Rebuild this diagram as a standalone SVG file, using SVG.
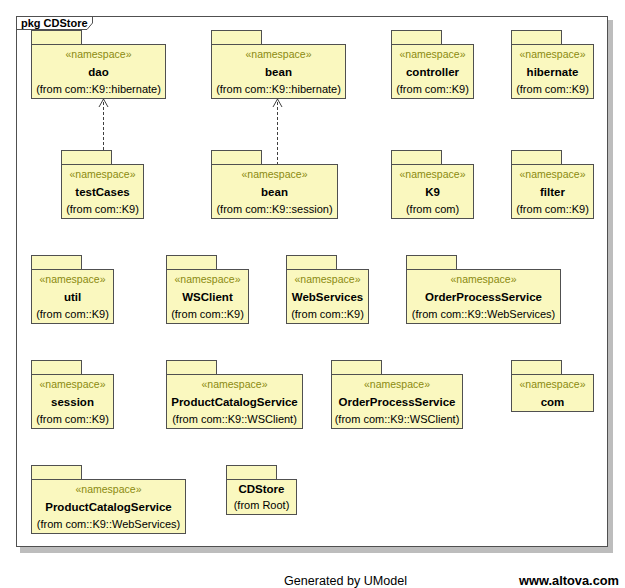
<svg xmlns="http://www.w3.org/2000/svg" width="625" height="588" viewBox="0 0 625 588">
<style>
.pk{fill:#FAF8BF;stroke:#505050;stroke-width:1}
.st{font-family:"Liberation Sans",Arial,sans-serif;font-size:10.5px;fill:#8A8A10;text-anchor:middle}
.nm{font-family:"Liberation Sans",Arial,sans-serif;font-size:11.5px;font-weight:bold;fill:#000;text-anchor:middle}
.fr{font-family:"Liberation Sans",Arial,sans-serif;font-size:11px;fill:#000;text-anchor:middle}
.dep{fill:none;stroke:#404040;stroke-width:1}
</style>
<defs>
<marker id="open" markerWidth="12" markerHeight="12" refX="10" refY="6" orient="auto" markerUnits="userSpaceOnUse" viewBox="0 0 12 12">
<path d="M2,1.5 L10,6 L2,10.5" fill="none" stroke="#404040" stroke-width="1"/>
</marker>
</defs>
<rect width="625" height="588" fill="#fff"/>
<g id="frame">
<rect x="20" y="20" width="593" height="533" fill="#BDBDBD"/>
<rect x="16.5" y="16.5" width="591" height="530" fill="#fff" stroke="#505050"/>
<path d="M16.5,29.5 H87 L92.5,23 V16.5" fill="none" stroke="#505050"/>
<text x="21" y="27" style="font-family:'Liberation Sans',Arial,sans-serif;font-size:11px;font-weight:bold">pkg CDStore</text>
</g>
<g id="connectors">
<line class="dep" x1="103.5" y1="165" x2="103.5" y2="99" stroke-dasharray="3,2" marker-end="url(#open)"/>
<line class="dep" x1="277.5" y1="165" x2="277.5" y2="99" stroke-dasharray="3,2" marker-end="url(#open)"/>
</g>
<g id="dao">
<rect class="pk" x="31.5" y="30.5" width="50" height="14"/>
<rect class="pk" x="31.5" y="44.5" width="134" height="54"/>
<text class="st" x="98.5" y="58">«namespace»</text>
<text class="nm" x="98.5" y="76">dao</text>
<text class="fr" x="98.5" y="93">(from com::K9::hibernate)</text>
</g>
<g id="bean_hibernate">
<rect class="pk" x="211.5" y="30.5" width="50" height="14"/>
<rect class="pk" x="211.5" y="44.5" width="134" height="54"/>
<text class="st" x="278.5" y="58">«namespace»</text>
<text class="nm" x="278.5" y="76">bean</text>
<text class="fr" x="278.5" y="93">(from com::K9::hibernate)</text>
</g>
<g id="controller">
<rect class="pk" x="391.5" y="30.5" width="50" height="14"/>
<rect class="pk" x="391.5" y="44.5" width="82" height="54"/>
<text class="st" x="432.5" y="58">«namespace»</text>
<text class="nm" x="432.5" y="76">controller</text>
<text class="fr" x="432.5" y="93">(from com::K9)</text>
</g>
<g id="hibernate">
<rect class="pk" x="511.5" y="30.5" width="50" height="14"/>
<rect class="pk" x="511.5" y="44.5" width="82" height="54"/>
<text class="st" x="552.5" y="58">«namespace»</text>
<text class="nm" x="552.5" y="76">hibernate</text>
<text class="fr" x="552.5" y="93">(from com::K9)</text>
</g>
<g id="testCases">
<rect class="pk" x="61.5" y="150.5" width="50" height="14"/>
<rect class="pk" x="61.5" y="164.5" width="82" height="54"/>
<text class="st" x="102.5" y="178">«namespace»</text>
<text class="nm" x="102.5" y="196">testCases</text>
<text class="fr" x="102.5" y="213">(from com::K9)</text>
</g>
<g id="bean_session">
<rect class="pk" x="211.5" y="150.5" width="50" height="14"/>
<rect class="pk" x="211.5" y="164.5" width="126" height="54"/>
<text class="st" x="274.5" y="178">«namespace»</text>
<text class="nm" x="274.5" y="196">bean</text>
<text class="fr" x="274.5" y="213">(from com::K9::session)</text>
</g>
<g id="K9">
<rect class="pk" x="391.5" y="150.5" width="50" height="14"/>
<rect class="pk" x="391.5" y="164.5" width="82" height="54"/>
<text class="st" x="432.5" y="178">«namespace»</text>
<text class="nm" x="432.5" y="196">K9</text>
<text class="fr" x="432.5" y="213">(from com)</text>
</g>
<g id="filter">
<rect class="pk" x="511.5" y="150.5" width="50" height="14"/>
<rect class="pk" x="511.5" y="164.5" width="82" height="54"/>
<text class="st" x="552.5" y="178">«namespace»</text>
<text class="nm" x="552.5" y="196">filter</text>
<text class="fr" x="552.5" y="213">(from com::K9)</text>
</g>
<g id="util">
<rect class="pk" x="31.5" y="255.5" width="50" height="14"/>
<rect class="pk" x="31.5" y="269.5" width="82" height="54"/>
<text class="st" x="72.5" y="283">«namespace»</text>
<text class="nm" x="72.5" y="301">util</text>
<text class="fr" x="72.5" y="318">(from com::K9)</text>
</g>
<g id="WSClient">
<rect class="pk" x="166.5" y="255.5" width="50" height="14"/>
<rect class="pk" x="166.5" y="269.5" width="82" height="54"/>
<text class="st" x="207.5" y="283">«namespace»</text>
<text class="nm" x="207.5" y="301">WSClient</text>
<text class="fr" x="207.5" y="318">(from com::K9)</text>
</g>
<g id="WebServices">
<rect class="pk" x="286.5" y="255.5" width="50" height="14"/>
<rect class="pk" x="286.5" y="269.5" width="82" height="54"/>
<text class="st" x="327.5" y="283">«namespace»</text>
<text class="nm" x="327.5" y="301">WebServices</text>
<text class="fr" x="327.5" y="318">(from com::K9)</text>
</g>
<g id="OrderProcessService_WebServices">
<rect class="pk" x="406.5" y="255.5" width="50" height="14"/>
<rect class="pk" x="406.5" y="269.5" width="154" height="54"/>
<text class="st" x="483.5" y="283">«namespace»</text>
<text class="nm" x="483.5" y="301">OrderProcessService</text>
<text class="fr" x="483.5" y="318">(from com::K9::WebServices)</text>
</g>
<g id="session">
<rect class="pk" x="31.5" y="360.5" width="50" height="14"/>
<rect class="pk" x="31.5" y="374.5" width="82" height="54"/>
<text class="st" x="72.5" y="388">«namespace»</text>
<text class="nm" x="72.5" y="406">session</text>
<text class="fr" x="72.5" y="423">(from com::K9)</text>
</g>
<g id="ProductCatalogService_WSClient">
<rect class="pk" x="166.5" y="360.5" width="50" height="14"/>
<rect class="pk" x="166.5" y="374.5" width="136" height="54"/>
<text class="st" x="234.5" y="388">«namespace»</text>
<text class="nm" x="234.5" y="406">ProductCatalogService</text>
<text class="fr" x="234.5" y="423">(from com::K9::WSClient)</text>
</g>
<g id="OrderProcessService_WSClient">
<rect class="pk" x="331.5" y="360.5" width="50" height="14"/>
<rect class="pk" x="331.5" y="374.5" width="131" height="54"/>
<text class="st" x="397" y="388">«namespace»</text>
<text class="nm" x="397" y="406">OrderProcessService</text>
<text class="fr" x="397" y="423">(from com::K9::WSClient)</text>
</g>
<g id="com">
<rect class="pk" x="511.5" y="360.5" width="50" height="14"/>
<rect class="pk" x="511.5" y="374.5" width="82" height="37"/>
<text class="st" x="552.5" y="388">«namespace»</text>
<text class="nm" x="552.5" y="406">com</text>
</g>
<g id="ProductCatalogService_WebServices">
<rect class="pk" x="31.5" y="465.5" width="50" height="14"/>
<rect class="pk" x="31.5" y="479.5" width="154" height="54"/>
<text class="st" x="108.5" y="493">«namespace»</text>
<text class="nm" x="108.5" y="511">ProductCatalogService</text>
<text class="fr" x="108.5" y="528">(from com::K9::WebServices)</text>
</g>
<g id="CDStore">
<rect class="pk" x="226.5" y="465.5" width="50" height="14"/>
<rect class="pk" x="226.5" y="479.5" width="70" height="35"/>
<text class="nm" x="261.5" y="493">CDStore</text>
<text class="fr" x="261.5" y="509">(from Root)</text>
</g>
<g id="footer">
<text x="284" y="585" style="font-family:'Liberation Sans',Arial,sans-serif;font-size:12px;fill:#000" textLength="123" lengthAdjust="spacingAndGlyphs">Generated by UModel</text>
<text x="519" y="585" style="font-family:'Liberation Sans',Arial,sans-serif;font-size:12.5px;font-weight:bold;fill:#000" textLength="100" lengthAdjust="spacingAndGlyphs">www.altova.com</text>
</g>
</svg>
